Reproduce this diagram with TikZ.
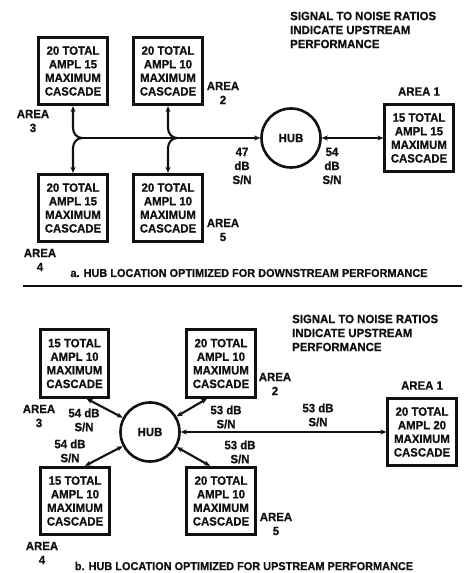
\documentclass[tikz,border=0pt]{standalone}
\usepackage{fontspec}
\setmainfont{Liberation Sans}[FakeStretch=0.95, BoldFeatures={FakeBold=0.8}]
\usetikzlibrary{arrows.meta, positioning}
\definecolor{ink}{RGB}{17,17,17}
\tikzset{
  %% ---- boxes ----
  area/.style = {rectangle, draw=ink, line width=2.8pt, fill=white,
                 minimum width=68.5pt, minimum height=67.5pt, inner sep=0pt,
                 align=center, text=ink,
                 font=\fontsize{12}{13.6}\selectfont\bfseries},
  hub/.style  = {circle, draw=ink, line width=2.6pt, fill=white,
                 minimum size=59pt, inner sep=0pt, text=ink,
                 font=\fontsize{12}{13.6}\selectfont\bfseries},
  lbl/.style  = {align=center, inner sep=0pt, text=ink,
                 font=\fontsize{12}{14}\selectfont\bfseries},
  figcap/.style = {inner sep=0pt, text=ink,
                 font=\fontsize{11.5}{14}\selectfont\bfseries},
  %% ---- arrows ----
  feed/.style  = {-{Stealth[length=6pt,width=5pt]}, line width=2.1pt, draw=ink},
  feedx/.style = {{Stealth[length=6pt,width=5pt]}-{Stealth[length=6pt,width=5pt]},
                  line width=2.1pt, draw=ink},
}

\begin{document}
\begin{tikzpicture}[x=1pt, y=1pt]
\useasboundingbox (0,0) rectangle (466,573);
%% ---- a. downstream ----
\node[area] (a3a) at (73,502)  {20 TOTAL\\AMPL 15\\MAXIMUM\\CASCADE};
\node[area] (a2a) at (168,502) {20 TOTAL\\AMPL 10\\MAXIMUM\\CASCADE};
\node[area] (a4a) at (73,365)  {20 TOTAL\\AMPL 15\\MAXIMUM\\CASCADE};
\node[area] (a5a) at (168,365) {20 TOTAL\\AMPL 10\\MAXIMUM\\CASCADE};
\node[hub]  (huba) at (291,435) {HUB};
\node[area] (a1a) at (419,435) {15 TOTAL\\AMPL 15\\MAXIMUM\\CASCADE};
\node[lbl, above=7pt of a1a] (a1alab) {AREA 1};
\node[lbl] (a2alab) at (223,480) {AREA\\2};
\node[lbl] (a3alab) at (33,452)  {AREA\\3};
\node[lbl] (a4alab) at (40,313)  {AREA\\4};
\node[lbl] (a5alab) at (223,343) {AREA\\5};
\node[lbl] (sn47) at (242,407) {47\\dB\\S/N};
\node[lbl] (sn54) at (332,407) {54\\dB\\S/N};
\node[lbl, align=left, anchor=west] (notea) at (290,543)
  {SIGNAL TO NOISE RATIOS\\INDICATE UPSTREAM\\PERFORMANCE};
\node[figcap] (capa) at (249,300) {a. HUB LOCATION OPTIMIZED FOR DOWNSTREAM PERFORMANCE};
\coordinate (ja) at (82,435);
\coordinate (jb) at (177,435);
\draw[feed] (ja) -- (huba);
\draw[feed] (ja) to[out=180,in=-90] ++(-9,10) -- (a3a.south);
\draw[feed] (ja) to[out=180,in=90] ++(-9,-10) -- (a4a.north);
\draw[feed] (jb) to[out=180,in=-90] ++(-9,10) -- (a2a.south);
\draw[feed] (jb) to[out=180,in=90] ++(-9,-10) -- (a5a.north);
\draw[feedx] (huba) -- (a1a);
%% ---- separator ----
\coordinate (sepl) at (23,287);
\coordinate (sepr) at (462,287);
\draw[ink, line width=2.2pt] (sepl) -- (sepr);
%% ---- b. upstream ----
\node[area] (a3b) at (74.5,209.5) {15 TOTAL\\AMPL 10\\MAXIMUM\\CASCADE};
\node[area] (a2b) at (221,209.5)  {20 TOTAL\\AMPL 10\\MAXIMUM\\CASCADE};
\node[area] (a4b) at (75,72)      {15 TOTAL\\AMPL 10\\MAXIMUM\\CASCADE};
\node[area] (a5b) at (221,72)     {20 TOTAL\\AMPL 10\\MAXIMUM\\CASCADE};
\node[hub]  (hubb) at (150,141)   {HUB};
\node[area] (a1b) at (422,141)    {20 TOTAL\\AMPL 20\\MAXIMUM\\CASCADE};
\node[lbl, above=7pt of a1b] (a1blab) {AREA 1};
\node[lbl] (a2blab) at (275,189) {AREA\\2};
\node[lbl] (a3blab) at (39,157)  {AREA\\3};
\node[lbl] (a4blab) at (42,20)   {AREA\\4};
\node[lbl] (a5blab) at (276,49)  {AREA\\5};
\node[lbl] (sn54u) at (84,153)  {54 dB\\S/N};
\node[lbl] (sn54l) at (70,122)  {54 dB\\S/N};
\node[lbl] (sn53u) at (226,156) {53 dB\\S/N};
\node[lbl] (sn53m) at (318,158) {53 dB\\S/N};
\node[lbl] (sn53l) at (240,121) {53 dB\\S/N};
\node[lbl, align=left, anchor=west] (noteb) at (292,240)
  {SIGNAL TO NOISE RATIOS\\INDICATE UPSTREAM\\PERFORMANCE};
\node[figcap] (capb) at (244,7) {b. HUB LOCATION OPTIMIZED FOR UPSTREAM PERFORMANCE};
\draw[feedx] (hubb) -- ([xshift=12pt]a3b.south);
\draw[feedx] (hubb) -- ([xshift=-14pt]a2b.south);
\draw[feedx] (hubb) -- ([xshift=10pt]a4b.north);
\draw[feedx] (hubb) -- ([xshift=-11pt]a5b.north);
\draw[feedx] (hubb) -- (a1b);
\end{tikzpicture}
\end{document}
